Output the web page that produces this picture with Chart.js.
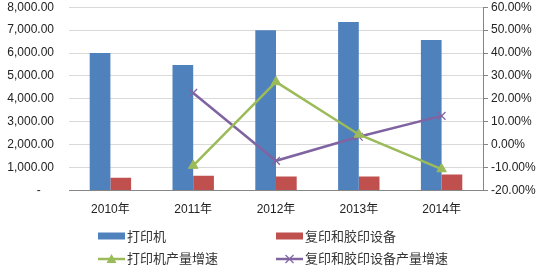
<!DOCTYPE html>
<html><head><meta charset="utf-8">
<script src="https://cdn.jsdelivr.net/npm/chart.js@4/dist/chart.umd.min.js"></script>
<style>
html,body{margin:0;padding:0;background:#fff;overflow:hidden;}
#wrap{position:relative;width:548px;height:267px;overflow:hidden;font-family:"Liberation Sans","DejaVu Sans","Noto Sans CJK SC",sans-serif;}
#c{position:absolute;left:0;top:-15px;}
.lg{position:absolute;font-size:13px;color:#333;font-family:"Noto Sans CJK SC","Liberation Sans",sans-serif;line-height:14px;white-space:nowrap;}
.lg svg{position:absolute;left:0;top:0;}
.lg span{position:absolute;left:29px;top:0;}
</style></head>
<body>
<div id="wrap">
<canvas id="c" width="548" height="244"></canvas>
<div class="lg" style="left:98px;top:229px;"><svg width="28" height="14"><rect x="0" y="3.5" width="27" height="7" fill="#4F81BD"/></svg><span>打印机</span></div>
<div class="lg" style="left:276px;top:229px;"><svg width="28" height="14"><rect x="0" y="3.5" width="27" height="7" fill="#C0504D"/></svg><span>复印和胶印设备</span></div>
<div class="lg" style="left:98px;top:251px;"><svg width="28" height="14"><line x1="0" y1="8" x2="27" y2="8" stroke="#9BBB59" stroke-width="2.5"/><polygon points="13.5,3 18.5,12 8.5,12" fill="#9BBB59"/></svg><span>打印机产量增速</span></div>
<div class="lg" style="left:276px;top:251px;"><svg width="28" height="14"><line x1="0" y1="8" x2="27" y2="8" stroke="#8064A2" stroke-width="2.5"/><line x1="9.5" y1="4" x2="17.5" y2="12" stroke="#8064A2" stroke-width="1.2"/><line x1="17.5" y1="4" x2="9.5" y2="12" stroke="#8064A2" stroke-width="1.2"/></svg><span>复印和胶印设备产量增速</span></div>
</div>
<script>
const categories = ["2010年","2011年","2012年","2013年","2014年"];
const printers = [6000, 5480, 7000, 7350, 6570];
const copiers = [565, 650, 610, 610, 700];
const printerGrowth = [null, -9.1, 27.4, 4.5, -10.6];
const copierGrowth = [null, 22.6, -7.0, 3.5, 12.6];
const seriesNames = ["打印机","复印和胶印设备","打印机产量增速","复印和胶印设备产量增速"];

const ctx = document.getElementById('c');
new Chart(ctx, {
  data: {
    labels: categories,
    datasets: [
      {type:'line', label:seriesNames[2], data:printerGrowth, yAxisID:'y2', borderColor:'#9BBB59', backgroundColor:'#9BBB59', borderWidth:2.5, pointStyle:'triangle', pointRadius:5.5, pointBorderWidth:1, order:0},
      {type:'line', label:seriesNames[3], data:copierGrowth, yAxisID:'y2', borderColor:'#8064A2', backgroundColor:'#8064A2', borderWidth:2.5, pointStyle:'crossRot', pointRadius:5.5, pointBorderWidth:1.3, order:0},
      {type:'bar', label:seriesNames[0], data:printers, yAxisID:'y', backgroundColor:'#4F81BD', categoryPercentage:0.5, barPercentage:1, order:1},
      {type:'bar', label:seriesNames[1], data:copiers, yAxisID:'y', backgroundColor:'#C0504D', categoryPercentage:0.5, barPercentage:1, order:1}
    ]
  },
  options: {
    responsive:false, animation:false, devicePixelRatio:1,
    layout:{padding:{top:0,bottom:0,left:0,right:0}},
    plugins:{legend:{display:false}, tooltip:{enabled:false}},
    scales:{
      x:{
        grid:{display:false, drawTicks:false},
        border:{display:true,color:'#868686',width:1},
        ticks:{color:'#222',font:{size:12,family:'"Liberation Sans","Noto Sans CJK SC",sans-serif'},padding:12,maxRotation:0}
      },
      y:{
        position:'left', min:0, max:8000,
        afterFit:(s)=>{s.width=69;},
        grid:{color:'#D9D9D9',lineWidth:1,drawTicks:false},
        border:{display:false},
        ticks:{stepSize:1000,color:'#222',padding:15,font:{size:12,family:'"Liberation Sans",sans-serif'},
          callback:(v)=> v===0 ? '-    ' : v.toLocaleString('en-US',{minimumFractionDigits:2,maximumFractionDigits:2})}
      },
      y2:{
        position:'right', min:-20, max:60,
        afterFit:(s)=>{s.width=65;},
        grid:{drawOnChartArea:false,color:'#868686',tickLength:5},
        border:{display:true,color:'#868686'},
        ticks:{stepSize:10,color:'#222',padding:3,font:{size:12,family:'"Liberation Sans",sans-serif'},
          callback:(v)=> v.toFixed(2)+'%'}
      }
    }
  }
});
</script>
</body></html>
